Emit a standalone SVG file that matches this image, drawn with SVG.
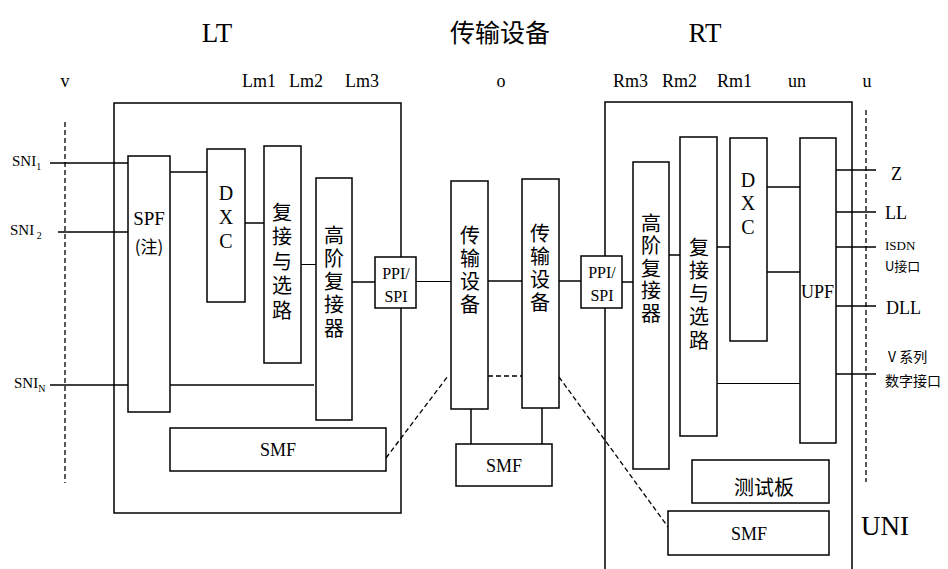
<svg xmlns="http://www.w3.org/2000/svg" width="948" height="569" viewBox="0 0 948 569">
<style>
.bx{fill:#fff;stroke:#000;stroke-width:1.5}
.fr{fill:none;stroke:#000;stroke-width:1.5}
.ln{fill:none;stroke:#000;stroke-width:1.5}
.th{fill:none;stroke:#000;stroke-width:1}
.ds{fill:none;stroke:#000;stroke-width:1.3;stroke-dasharray:5,3}
.t{font-family:'Liberation Serif','Times New Roman','DejaVu Serif',serif;fill:#000}
.c{font-family:'Noto Sans CJK SC','Noto Sans CJK JP',sans-serif;fill:#000}
.m{text-anchor:middle}
.v{writing-mode:vertical-rl;font-family:'Noto Sans CJK SC','Noto Sans CJK JP',sans-serif;font-size:20px;fill:#000}
</style>
<rect width="948" height="569" fill="#fff"/>
<!-- titles -->
<text class="t m" x="217" y="42" font-size="27">LT</text>
<text class="c m" x="500" y="42" font-size="25">传输设备</text>
<text class="t m" x="705" y="42" font-size="27">RT</text>
<text class="t m" x="65" y="87" font-size="18">v</text>
<text class="t" x="242" y="87" font-size="18">Lm1</text>
<text class="t" x="289" y="87" font-size="18">Lm2</text>
<text class="t" x="345" y="87" font-size="18">Lm3</text>
<text class="t m" x="501" y="87" font-size="18">o</text>
<text class="t" x="613" y="87" font-size="18">Rm3</text>
<text class="t" x="662" y="87" font-size="18">Rm2</text>
<text class="t" x="717" y="87" font-size="18">Rm1</text>
<text class="t m" x="797" y="87" font-size="18">un</text>
<text class="t m" x="867" y="87" font-size="18">u</text>
<!-- reference dashed lines -->
<line class="ds" x1="65" y1="122" x2="65" y2="483"/>
<line class="ds" x1="866" y1="110" x2="866" y2="482"/>
<!-- frames -->
<rect class="fr" x="114" y="103" width="287" height="410"/>
<path class="fr" d="M605,569 V102 H852 V569"/>
<!-- connectors -->
<g id="connectors">
<line class="ln" x1="50" y1="163" x2="128" y2="163"/>
<line class="ln" x1="58" y1="232" x2="128" y2="232"/>
<line class="ln" x1="50" y1="385" x2="128" y2="385"/>
<line class="ln" x1="170" y1="172" x2="207" y2="172"/>
<line class="ln" x1="245" y1="223" x2="264" y2="223"/>
<line class="th" x1="301" y1="264.5" x2="316" y2="264.5"/>
<line class="ln" x1="170" y1="385" x2="314" y2="385"/>
<line class="ln" x1="352" y1="282" x2="375" y2="282"/>
<line class="th" x1="416" y1="281.5" x2="451" y2="281.5"/>
<line class="ln" x1="488" y1="281" x2="522" y2="281"/>
<line class="ds" x1="488" y1="376" x2="522" y2="376"/>
<line class="ln" x1="559" y1="281" x2="581" y2="281"/>
<line class="ln" x1="622" y1="282" x2="633" y2="282"/>
<line class="ln" x1="471" y1="409" x2="471" y2="444"/>
<line class="ln" x1="542" y1="408" x2="542" y2="444"/>
<line class="ds" x1="386" y1="458" x2="448" y2="376"/>
<line class="ds" x1="559" y1="377" x2="668" y2="527"/>
<line class="ln" x1="669" y1="255" x2="680" y2="255"/>
<line class="ln" x1="717" y1="247" x2="730" y2="247"/>
<line class="ln" x1="767" y1="187" x2="803" y2="187"/>
<line class="ln" x1="767" y1="272" x2="803" y2="272"/>
<line class="th" x1="717" y1="383.5" x2="803" y2="383.5"/>
<line class="ln" x1="836" y1="170" x2="876" y2="170"/>
<line class="ln" x1="836" y1="212" x2="876" y2="212"/>
<line class="ln" x1="836" y1="247" x2="876" y2="247"/>
<line class="ln" x1="836" y1="306" x2="876" y2="306"/>
<line class="ln" x1="836" y1="374" x2="876" y2="374"/>
</g>
<!-- SNI labels -->
<text class="t" x="12" y="166" font-size="15">SNI<tspan font-size="10" dy="4">1</tspan></text>
<text class="t" x="10" y="235" font-size="15">SNI<tspan font-size="10" dy="4"> 2</tspan></text>
<text class="t" x="14" y="388" font-size="15">SNI<tspan font-size="10" dy="4">N</tspan></text>
<!-- LT nodes -->
<g id="spf">
<rect class="bx" x="128" y="156" width="42" height="256"/>
<text class="t m" x="149" y="225" font-size="19">SPF</text>
<text class="c m" x="149" y="253" font-size="17">(注)</text>
</g>
<g id="lt-dxc">
<rect class="bx" x="207" y="149" width="38" height="153"/>
<text class="t m" x="226" y="200" font-size="20">D</text>
<text class="t m" x="226" y="224" font-size="20">X</text>
<text class="t m" x="226" y="248" font-size="20">C</text>
</g>
<g id="lt-mux">
<rect class="bx" x="264" y="146" width="37" height="217"/>
<text class="v" x="282" y="202" letter-spacing="4.5">复接与选路</text>
</g>
<g id="lt-hmux">
<rect class="bx" x="316" y="178" width="36" height="242"/>
<text class="v" x="334" y="225" letter-spacing="3.3">高阶复接器</text>
</g>
<g id="lt-ppi">
<rect class="bx" x="375" y="257" width="41" height="51"/>
<text class="t m" x="396" y="279" font-size="16">PPI/</text>
<text class="t m" x="396" y="302" font-size="16">SPI</text>
</g>
<g id="lt-smf">
<rect class="bx" x="170" y="428" width="216" height="43"/>
<text class="t m" x="278" y="456" font-size="18">SMF</text>
</g>
<!-- middle -->
<g id="tx1">
<rect class="bx" x="451" y="181" width="37" height="228"/>
<text class="v" x="470" y="225" letter-spacing="3.3">传输设备</text>
</g>
<g id="tx2">
<rect class="bx" x="522" y="179" width="37" height="229"/>
<text class="v" x="540" y="223" letter-spacing="3.3">传输设备</text>
</g>
<g id="mid-smf">
<rect class="bx" x="456" y="444" width="96" height="42"/>
<text class="t m" x="504" y="472" font-size="18">SMF</text>
</g>
<!-- RT nodes -->
<g id="rt-ppi">
<rect class="bx" x="581" y="256" width="41" height="52"/>
<text class="t m" x="602" y="278" font-size="16">PPI/</text>
<text class="t m" x="602" y="301" font-size="16">SPI</text>
</g>
<g id="rt-hmux">
<rect class="bx" x="633" y="162" width="36" height="307"/>
<text class="v" x="651" y="213" letter-spacing="2.5">高阶复接器</text>
</g>
<g id="rt-mux">
<rect class="bx" x="680" y="137" width="37" height="299"/>
<text class="v" x="699" y="237" letter-spacing="3.3">复接与选路</text>
</g>
<g id="rt-dxc">
<rect class="bx" x="730" y="138" width="37" height="203"/>
<text class="t m" x="748" y="187" font-size="20">D</text>
<text class="t m" x="748" y="210" font-size="20">X</text>
<text class="t m" x="748" y="234" font-size="20">C</text>
</g>
<g id="upf">
<rect class="bx" x="800" y="138" width="36" height="305"/>
<text class="t" x="801" y="298" font-size="18">UPF</text>
</g>
<g id="test">
<rect class="bx" x="692" y="460" width="137" height="43"/>
<text class="c m" x="764" y="495" font-size="20">测试板</text>
</g>
<g id="rt-smf">
<rect class="bx" x="668" y="511" width="161" height="44"/>
<text class="t m" x="749" y="540" font-size="18">SMF</text>
</g>
<!-- right labels -->
<text class="t" x="891" y="180" font-size="18">Z</text>
<text class="t" x="885" y="219" font-size="18">LL</text>
<text class="t" x="885" y="250" font-size="13">ISDN</text>
<text class="c" x="885" y="271" font-size="13">U接口</text>
<text class="t" x="886" y="314" font-size="18">DLL</text>
<text class="c" x="888" y="362" font-size="14">V 系列</text>
<text class="c" x="885" y="386" font-size="14">数字接口</text>
<text class="t" x="861" y="535" font-size="27">UNI</text>
</svg>
